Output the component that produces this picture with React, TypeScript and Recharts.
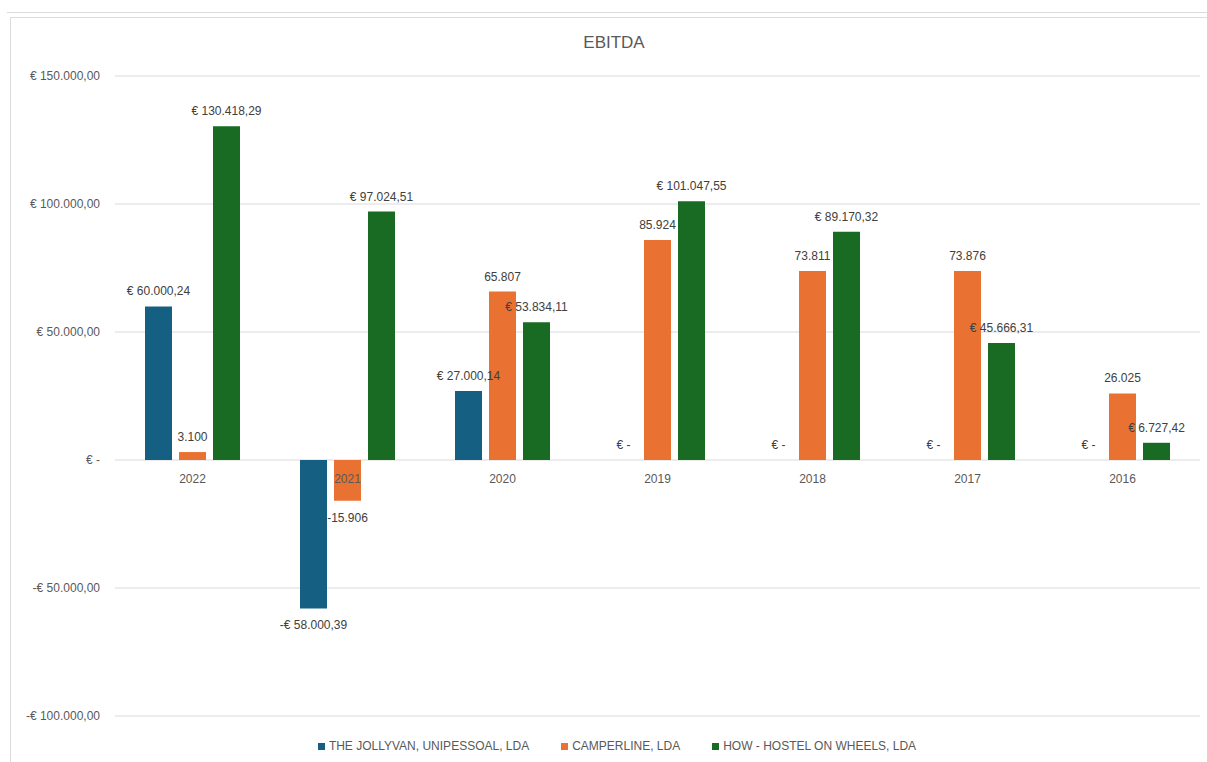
import React from "react";
import {
  BarChart,
  Bar,
  XAxis,
  YAxis,
  CartesianGrid,
  Legend,
  LabelList,
} from "recharts";

// data
const YEARS = ["2022", "2021", "2020", "2019", "2018", "2017", "2016"];
const JOLLYVAN = [60000.24, -58000.39, 27000.14, 0, 0, 0, 0];
const CAMPERLINE = [3100, -15906, 65807, 85924, 73811, 73876, 26025];
const HOW = [130418.29, 97024.51, 53834.11, 101047.55, 89170.32, 45666.31, 6727.42];
const Y_TICKS = [-100000, -50000, 0, 50000, 100000, 150000];

const SERIES = [
  { key: "jolly", name: "THE JOLLYVAN, UNIPESSOAL, LDA", color: "#156082" },
  { key: "camper", name: "CAMPERLINE, LDA", color: "#E97132" },
  { key: "how", name: "HOW - HOSTEL ON WHEELS, LDA", color: "#196B24" },
];

const data = YEARS.map((year, i) => ({
  year,
  jolly: JOLLYVAN[i],
  camper: CAMPERLINE[i],
  how: HOW[i],
}));

const W = 1207;
const H = 762;
const PLOT_TOP = 76;
const PLOT_BOTTOM = 716;
const Y_MIN = -100000;
const Y_MAX = 150000;
const ZERO_Y = PLOT_TOP + (Y_MAX / (Y_MAX - Y_MIN)) * (PLOT_BOTTOM - PLOT_TOP);

const FONT = "'Liberation Sans', Arial, sans-serif";
const TEXT = "#595959";

// 1234567.5 -> "1.234.567,50"
function num(v: number, dec: number) {
  const [int, frac] = Math.abs(v).toFixed(dec).split(".");
  const withDots = int.replace(/\B(?=(\d{3})+(?!\d))/g, ".");
  return frac ? `${withDots},${frac}` : withDots;
}

function euro(v: number) {
  if (v === 0) return "€ -";
  return (v < 0 ? "-€ " : "€ ") + num(v, 2);
}

function plain(v: number) {
  return (v < 0 ? "-" : "") + num(v, 0);
}

const makeLabel = (fmt: (v: number) => string) => (props: any) => {
  const { x, y, width, height, value } = props;
  const top = Math.min(y, y + height);
  const bottom = Math.max(y, y + height);
  const ty = value < 0 ? bottom + 21 : top - 11;
  return (
    <text
      x={x + width / 2}
      y={ty}
      textAnchor="middle"
      fill="#404040"
      fontSize={12}
      fontFamily={FONT}
    >
      {fmt(value)}
    </text>
  );
};

function YearTick(props: any) {
  const { x, payload } = props;
  return (
    <text x={x} y={ZERO_Y + 23} textAnchor="middle" fill={TEXT} fontSize={12} fontFamily={FONT}>
      {payload.value}
    </text>
  );
}

function renderLegend() {
  return (
    <div
      style={{
        display: "flex",
        justifyContent: "center",
        alignItems: "center",
        gap: 32,
        height: 18,
        fontFamily: FONT,
        fontSize: 12,
        color: TEXT,
        paddingLeft: 6,
      }}
    >
      {SERIES.map((s) => (
        <div key={s.key} style={{ display: "flex", alignItems: "center", gap: 4 }}>
          <span style={{ width: 7, height: 7, background: s.color, display: "inline-block" }} />
          <span>{s.name}</span>
        </div>
      ))}
    </div>
  );
}

// zero values still get their "€ -" label, so give them a hairline height
const tiny = (v: number) => (v === 0 ? 0.01 : 0);

export default function App() {
  return (
    <div
      style={{
        position: "absolute",
        left: 0,
        top: 0,
        width: W,
        height: H,
        overflow: "hidden",
        background: "#fff",
      }}
    >
      <div style={{ position: "absolute", left: 7, right: 0, top: 12, height: 1, background: "#dcdcdc" }} />
      <div
        style={{
          position: "absolute",
          left: 10,
          top: 17,
          width: 1220,
          height: 760,
          border: "1px solid #dcdcdc",
        }}
      />
      <div
        style={{
          position: "absolute",
          left: 0,
          width: 1228,
          top: 32,
          lineHeight: "22px",
          textAlign: "center",
          fontFamily: FONT,
          fontSize: 17,
          color: TEXT,
        }}
      >
        EBITDA
      </div>
      <div style={{ position: "absolute", left: 0, top: 0 }}>
        <BarChart
          width={W}
          height={H}
          data={data}
          margin={{ top: PLOT_TOP, right: 7, bottom: H - PLOT_BOTTOM - 1, left: 0 }}
          barSize={27}
          barGap={7}
        >
          <CartesianGrid vertical={false} stroke="#d9d9d9" />
          <XAxis
            dataKey="year"
            height={1}
            axisLine={false}
            tickLine={false}
            tick={<YearTick />}
            interval={0}
          />
          <YAxis
            width={115}
            domain={[Y_MIN, Y_MAX]}
            ticks={Y_TICKS}
            axisLine={false}
            tickLine={false}
            tickMargin={9}
            tickFormatter={euro}
            tick={{ fill: TEXT, fontSize: 12, fontFamily: FONT }}
          />
          <Legend
            verticalAlign="middle"
            align="center"
            content={renderLegend}
            wrapperStyle={{ top: 737, left: 0, width: 1228 }}
          />
          <Bar
            dataKey="jolly"
            name={SERIES[0].name}
            fill={SERIES[0].color}
            minPointSize={tiny}
            isAnimationActive={false}
          >
            <LabelList dataKey="jolly" content={makeLabel(euro)} />
          </Bar>
          <Bar dataKey="camper" name={SERIES[1].name} fill={SERIES[1].color} isAnimationActive={false}>
            <LabelList dataKey="camper" content={makeLabel(plain)} />
          </Bar>
          <Bar dataKey="how" name={SERIES[2].name} fill={SERIES[2].color} isAnimationActive={false}>
            <LabelList dataKey="how" content={makeLabel(euro)} />
          </Bar>
        </BarChart>
      </div>
    </div>
  );
}
